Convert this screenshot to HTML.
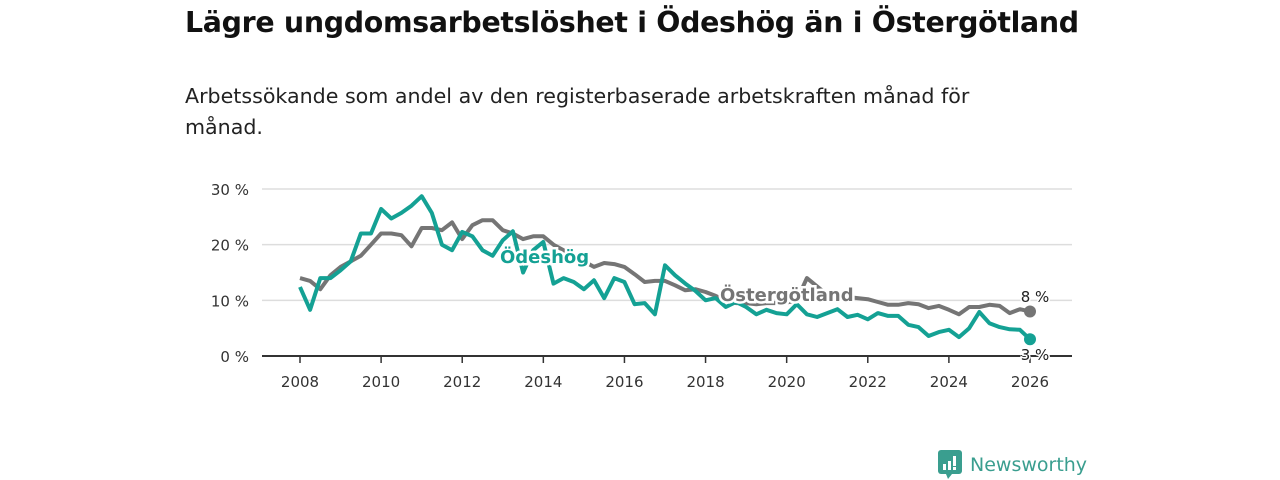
<!DOCTYPE html>
<html><head><meta charset="utf-8"><style>
body{margin:0;width:1280px;height:480px;background:#fff;font-family:"DejaVu Sans","Liberation Sans",sans-serif;overflow:hidden;position:relative}
h1{position:absolute;left:185px;top:6px;margin:0;font-size:28.4px;font-weight:bold;color:#111;letter-spacing:-0.3px;white-space:nowrap}
.sub{position:absolute;left:185px;top:81px;margin:0;font-size:20.6px;line-height:31px;color:#222;width:840px}
svg{position:absolute;left:0;top:0}
</style></head><body>
<h1>Lägre ungdomsarbetslöshet i Ödeshög än i Östergötland</h1>
<p class="sub">Arbetssökande som andel av den registerbaserade arbetskraften månad för månad.</p>
<svg id="chart" width="1280" height="480"></svg>
<div style="position:absolute;left:938px;top:450px;display:flex;align-items:center">
<svg width="24" height="30" style="position:static"><rect x="0" y="0" width="24" height="24" rx="3" fill="#3a9e8f"/><polygon points="8,24 14,24 10,29" fill="#3a9e8f"/><rect x="5" y="14" width="3" height="6" fill="#fff"/><rect x="10" y="11" width="3" height="9" fill="#fff"/><rect x="15" y="6" width="3" height="10" fill="#fff"/><rect x="15" y="17" width="3" height="3" fill="#fff"/></svg>
<span style="margin-left:8px;font-size:19px;color:#3a9e8f;font-weight:500">Newsworthy</span></div>
<script>
const years=[2008,2010,2012,2014,2016,2018,2020,2022,2024,2026];
const yTicks=[0,10,20,30];
const ost=[14,13.5,12,14.5,16,17,18,20,22,22,21.7,19.7,23,23,22.6,24,21,23.5,24.4,24.4,22.6,22,21,21.5,21.5,20,19,18,17,16,16.7,16.5,16,14.7,13.3,13.5,13.5,12.7,11.8,12,11.5,10.8,10,9.5,9.5,9.3,9.5,9.5,9.6,10,14,12.5,11,10.8,10.6,10.4,10.2,9.7,9.2,9.2,9.5,9.3,8.6,9,8.3,7.5,8.8,8.8,9.2,9,7.7,8.4,8];
const ode=[12.4,8.3,14,14,15.4,17,22,22,26.4,24.7,25.7,27,28.7,25.7,20,19,22.3,21.5,19,18,20.8,22.4,15,19,20.5,13,14,13.3,12,13.6,10.4,14,13.3,9.3,9.5,7.5,16.3,14.5,13,11.7,10,10.4,8.8,9.7,8.8,7.5,8.3,7.7,7.5,9.3,7.5,7,7.7,8.4,7,7.4,6.6,7.7,7.2,7.2,5.6,5.2,3.6,4.3,4.7,3.4,5,7.9,5.9,5.2,4.8,4.7,3];
const NS="http://www.w3.org/2000/svg";
const svg=document.getElementById('chart');
const FF='DejaVu Sans, Liberation Sans, sans-serif';
const x=t=>300+(t-2008)*(1030-300)/18;
const y=v=>356-v*(356-189)/30;
function el(tag,attrs,text){const e=document.createElementNS(NS,tag);for(const k in attrs)e.setAttribute(k,attrs[k]);if(text!=null)e.textContent=text;svg.appendChild(e);return e;}
yTicks.forEach(v=>{
 if(v>0){const g=el('line',{x1:262,x2:1072,y1:y(v),y2:y(v),stroke:'#ddd','stroke-width':1.5});
 
 }
 const t=el('text',{x:249,y:y(v)+6,'text-anchor':'end','font-size':15,fill:'#333','font-family':FF},v+' %');
 
 
});
const ax=el('line',{x1:262,x2:1072,y1:356,y2:356,stroke:'#333','stroke-width':2});


years.forEach(yr=>{
 const tk=el('line',{x1:x(yr),x2:x(yr),y1:356,y2:363,stroke:'#333','stroke-width':1.5});
 
 
 const t=el('text',{x:x(yr),y:387,'text-anchor':'middle','font-size':15,fill:'#333','font-family':FF},yr);
 
 
});
function line(data,color,name){
 const d=data.map((v,i)=>(i?'L':'M')+x(2008+i*0.25).toFixed(1)+','+y(v).toFixed(1)).join('');
 const p=el('path',{d:d,fill:'none',stroke:color,'stroke-width':4,'stroke-linejoin':'round'});
 
 
 const c=el('circle',{cx:x(2008+(data.length-1)*0.25),cy:y(data[data.length-1]),r:6,fill:color});
 
 
}
line(ost,'#757575','ostergotland');
line(ode,'#14a194','odeshog');
function lab(tx,xx,yy,color,name,size){
 const t=el('text',{x:xx,y:yy,'font-size':size,'font-weight':'bold',fill:color,stroke:'#fff','stroke-width':5,'paint-order':'stroke','font-family':FF},tx);
 
 
}
lab('Ödeshög',500,263,'#14a194','odeshog-label',18);
lab('Östergötland',720,301,'#757575','ostergotland-label',18);
const e1=el('text',{x:1035,y:302,'text-anchor':'middle','font-size':15,fill:'#222',stroke:'#fff','stroke-width':3,'paint-order':'stroke','font-family':FF},ost[ost.length-1]+' %');


const e2=el('text',{x:1035,y:360,'text-anchor':'middle','font-size':15,fill:'#222',stroke:'#fff','stroke-width':3,'paint-order':'stroke','font-family':FF},ode[ode.length-1]+' %');


</script>
</body></html>
